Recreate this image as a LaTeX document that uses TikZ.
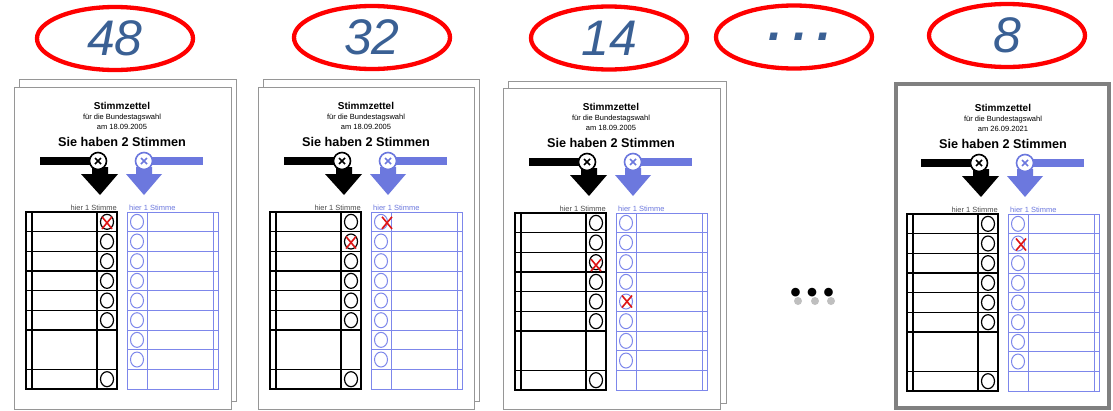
\documentclass[tikz,border=0pt]{standalone}
\usepackage{fontspec}
\setmainfont{Liberation Sans}
\usetikzlibrary{shapes.geometric}

\definecolor{zahlblau}{RGB}{58,96,148}
\definecolor{zweitblau}{RGB}{108,120,222}
\definecolor{tabblau}{RGB}{125,135,235}
\definecolor{kreuzrot}{RGB}{222,20,20}
\definecolor{blattgrau}{RGB}{150,150,150}
\definecolor{randgrau}{RGB}{128,128,128}

% #1 name, #2/#3 left/top of the sheet, #4 date, #5 crosses (x/row/dx/dy)
\newcommand{\stimmzettel}[5]{%
  \begin{scope}[shift={(#2,#3)}]
    % Kopf
    \node[titel] (#1-titel) at (108,19) {Stimmzettel};
    \node[klein] (#1-wahl) at (108,31) {für die Bundestagswahl};
    \node[klein] (#1-datum) at (108,40) {am #4};
    \node[gross] (#1-stimmen) at (108,55) {Sie haben 2 Stimmen};
    % Pfeile
    \fill (26,70) rectangle (84,78);
    \fill (78,80) -- (94,80) -- (94,87) -- (104,87) -- (86,108) -- (67,87) -- (78,87) -- cycle;
    \node[kreis] (#1-erst) at (84,74) {};
    \draw[line width=1.6pt] (81,71) -- (87,77) (81,77) -- (87,71);
    \fill[zweitblau] (130,70) rectangle (189,78);
    \fill[zweitblau] (122,80) -- (138,80) -- (138,87) -- (148,87) -- (130,108) -- (112,87) -- (122,87) -- cycle;
    \node[kreis, draw=zweitblau] (#1-zweit) at (130,74) {};
    \draw[zweitblau, line width=1.6pt] (127,71) -- (133,77) (127,77) -- (133,71);
    % Erststimme
    \node[klein, text=black!70, anchor=base east] (#1-erstlabel) at (103,123) {hier 1 Stimme};
    \draw[linie] (12,125) rectangle (103,302) (18,125) -- (18,302) (83,125) -- (83,302);
    \foreach \i in {1,...,6,8}
      \draw[linie] (12,{125+\i*19.67}) -- (103,{125+\i*19.67});
    \foreach \i in {1,...,6,9}
      \draw[line width=1.2pt] (93,{125+(\i-0.5)*19.67}) ellipse (6.5pt and 7.5pt);
    % Zweitstimme
    \node[klein, text=zweitblau, anchor=base west] (#1-zweitlabel) at (115,123) {hier 1 Stimme};
    \draw[blaulinie] (113,125) rectangle (204,302) (133,125) -- (133,302) (199,125) -- (199,302);
    \foreach \i in {1,...,8}
      \draw[blaulinie] (113,{125+\i*19.67}) -- (204,{125+\i*19.67});
    \foreach \i in {1,...,8}
      \draw[blaulinie] (123,{125+(\i-0.5)*19.67}) ellipse (6.5pt and 7.5pt);
    % Kreuze
    \foreach \mx/\mr/\dx/\dy in {#5}
      \draw[kreuz] ({\mx+\dx-5},{125+(\mr-0.5)*19.67+\dy-6}) -- ++(10,12) ++(0,-12) -- ++(-10,12);
  \end{scope}}

\begin{document}
\begin{tikzpicture}[
    x=1pt, y=-1pt,
    zahl/.style={
        ellipse, draw=red, line width=4.3pt,
        minimum width=156pt, minimum height=63pt, inner sep=0pt,
        text=zahlblau, font=\fontsize{50}{50}\selectfont\itshape
    },
    blatt/.style={draw=blattgrau, line width=1pt, fill=white},
    titel/.style={inner sep=0pt, font=\fontsize{10}{12}\selectfont\bfseries},
    klein/.style={inner sep=0pt, font=\fontsize{7.5}{9}\selectfont},
    gross/.style={inner sep=0pt, font=\fontsize{12.7}{15}\selectfont\bfseries},
    kreis/.style={circle, draw, fill=white, line width=1.6pt,
        minimum size=17pt, inner sep=0pt},
    linie/.style={line width=1.3pt},
    blaulinie/.style={draw=tabblau, line width=1pt},
    kreuz/.style={draw=kreuzrot, line width=1.6pt}
]

\useasboundingbox (0,0) rectangle (1113,410);

% --- Anzahlen ---
\node[zahl] (z48) at (115,38.5) {48};
\node[zahl] (z32) at (372,37.5) {32};
\node[zahl] (z14) at (609,38) {14};
\node[zahl] (zpunkte) at (794,37)
    {\hspace{12pt}\bfseries .\hspace{11pt}.\hspace{11pt}.};
\node[zahl] (z8) at (1007,35.5) {8};

% --- Blätter ---
\draw[blatt] (19,79) rectangle (236,401);
\draw[blatt] (14,87) rectangle (231,409);
\draw[blatt] (263,79) rectangle (479,401);
\draw[blatt] (258,87) rectangle (474,409);
\draw[blatt] (508,81) rectangle (726,403);
\draw[blatt] (503,88) rectangle (720,409);
\draw[blatt, draw=randgrau, line width=4.5pt] (896,84) rectangle (1109,408);

% --- Stimmzettel ---
\stimmzettel{s1}{14}{87}{18.09.2005}{93/1/0/1}
\stimmzettel{s2}{258}{87}{18.09.2005}{93/2/0/1, 123/1/6/1}
\stimmzettel{s3}{503}{88}{18.09.2005}{93/3/0/3, 123/5/1/0}
\stimmzettel{s5}{895}{89}{26.09.2021}{123/2/3/1}

% --- Auslassung ---
\foreach \x in {798,815,831}
  \fill[black!25] (\x,301) circle (4pt);
\node[font=\fontsize{30}{30}\selectfont\bfseries] (punkte) at (812,295)
    {•\hspace{6pt}•\hspace{6pt}•};

\end{tikzpicture}
\end{document}
